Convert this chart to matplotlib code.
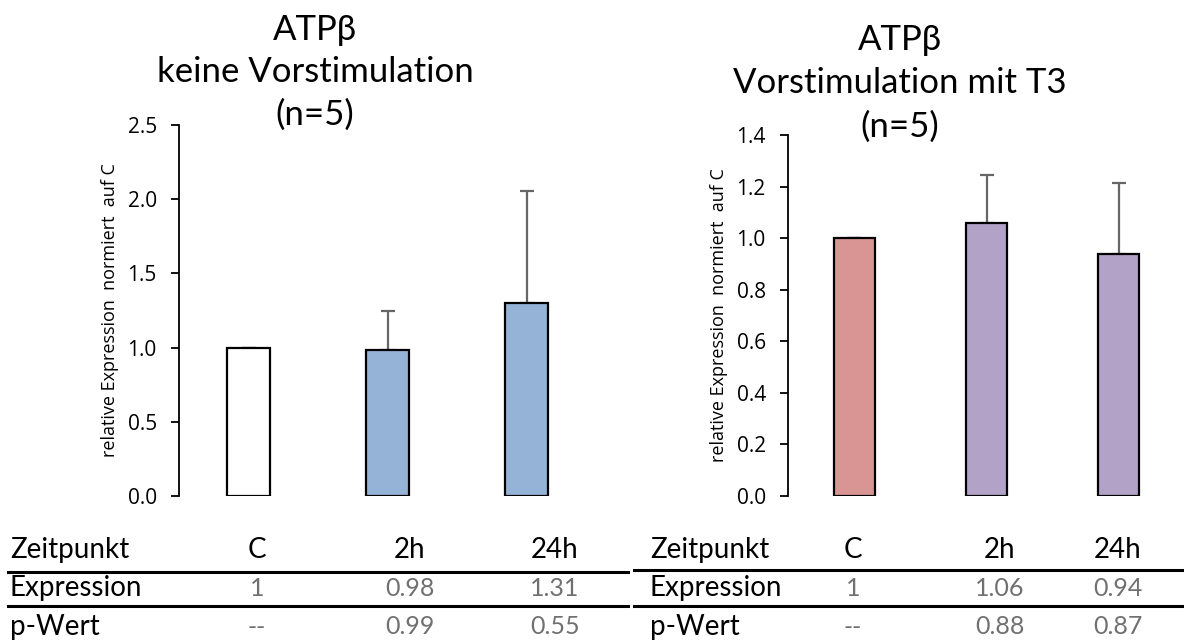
import matplotlib
matplotlib.use("Agg")
import matplotlib.pyplot as plt
from matplotlib.lines import Line2D

categories = ["C", "2h", "24h"]

left_title = ["ATP\u03b2", "keine Vorstimulation", "(n=5)"]
left_values = [1.0, 0.984, 1.30]
left_err = [0.0, 0.265, 0.755]
left_colors = ["#FFFFFF", "#95B3D7", "#95B3D7"]
left_ticks = [0.0, 0.5, 1.0, 1.5, 2.0, 2.5]
left_expr = ["1", "0.98", "1.31"]
left_p = ["--", "0.99", "0.55"]

right_title = ["ATP\u03b2", "Vorstimulation mit T3", "(n=5)"]
right_values = [1.0, 1.057, 0.938]
right_err = [0.0, 0.186, 0.274]
right_colors = ["#D99594", "#B2A2C7", "#B2A2C7"]
right_ticks = [0.0, 0.2, 0.4, 0.6, 0.8, 1.0, 1.2, 1.4]
right_expr = ["1", "1.06", "0.94"]
right_p = ["--", "0.88", "0.87"]

ylabel = "relative Expression  normiert  auf C"
row_labels = ["Zeitpunkt", "Expression", "p-Wert"]

FONT = ["Lato", "DejaVu Sans"]
plt.rcParams["font.family"] = FONT

W, H = 1184, 643
fig = plt.figure(figsize=(W / 100, H / 100), dpi=100)


def px(x, y):
    return x / W, 1 - y / H


def draw_panel(rect, values, err, colors, ticks, title, title_x, title_ys):
    ax = fig.add_axes(rect)
    x = list(range(len(categories)))
    ax.bar(x, values, width=0.31, color=colors, edgecolor="black", linewidth=1.6, zorder=2)
    ax.errorbar(x, values, yerr=[[0] * len(err), err], fmt="none", ecolor="#666666",
                elinewidth=1.6, capsize=5, capthick=1.6, zorder=1)
    ax.set_xlim(-0.5, 2.5)
    ax.set_ylim(0, ticks[-1])
    ax.set_yticks(ticks)
    ax.set_yticklabels([f"{t:.1f}" for t in ticks], fontsize=15, fontfamily=["Open Sans", "DejaVu Sans"])
    ax.set_xticks([])
    for s in ["top", "right", "bottom"]:
        ax.spines[s].set_visible(False)
    ax.spines["left"].set_linewidth(1.3)
    ax.tick_params(axis="y", direction="out", length=6, width=1.3, pad=10)
    ax.set_ylabel(ylabel, fontsize=13, fontfamily=["Open Sans", "DejaVu Sans"], labelpad=6)
    for line, ty in zip(title, title_ys):
        fig.text(*px(title_x, ty), line, ha="center", va="center", fontsize=25)
    return ax


draw_panel([179 / W, 1 - 496 / H, 417 / W, 371 / H], left_values, left_err, left_colors,
           left_ticks, left_title, 315, [30, 72, 115])
draw_panel([788 / W, 1 - 496 / H, 397 / W, 361 / H], right_values, right_err, right_colors,
           right_ticks, right_title, 900, [40, 83, 127])


def draw_table(label_x, col_x, expr, pvals, line_x0, line_x1, line_ys):
    rows_y = [550, 588, 627]
    for lbl, y in zip(row_labels, rows_y):
        fig.text(*px(label_x, y), lbl, ha="left", va="center", fontsize=20, color="black")
    for cx, c in zip(col_x, categories):
        fig.text(*px(cx, rows_y[0]), c, ha="center", va="center", fontsize=20, color="black")
    for cx, v in zip(col_x, expr):
        fig.text(*px(cx, rows_y[1]), v, ha="center", va="center", fontsize=18,
                 color="#707070")
    for cx, v in zip(col_x, pvals):
        fig.text(*px(cx, rows_y[2]), v, ha="center", va="center", fontsize=18,
                 color="#707070")
    for ly in line_ys:
        x0, y0 = px(line_x0, ly)
        x1, _ = px(line_x1, ly)
        fig.add_artist(Line2D([x0, x1], [y0, y0], color="black", linewidth=2.2))


draw_table(10, [257, 410, 555], left_expr, left_p, 8, 628, [572, 606])
draw_table(650, [853, 1000, 1118], right_expr, right_p, 634, 1184, [570, 606])

fig.savefig("out.png", dpi=100)
